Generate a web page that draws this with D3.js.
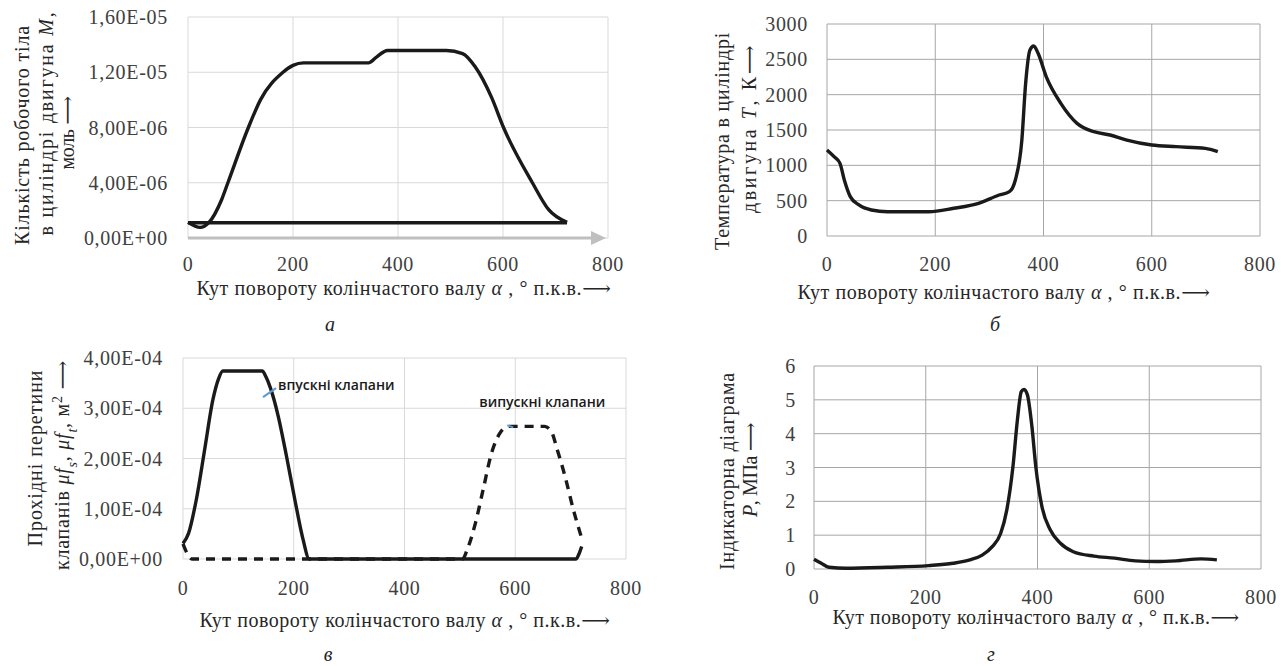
<!DOCTYPE html>
<html>
<head>
<meta charset="utf-8">
<script src="https://cdn.jsdelivr.net/npm/d3@7"></script>
<style>
  body { margin: 0; background: #fff; }
  svg { display: block; }
  .tick-label { font-family: "Liberation Serif", "DejaVu Serif", serif; font-size: 20px; letter-spacing: 0.7px; fill: #404040; }
  .title { font-family: "Liberation Serif", "DejaVu Serif", serif; font-size: 20px; fill: #262626; }
  .note { font-family: "Open Sans", sans-serif; font-size: 14px; font-weight: 600; fill: #1a1a1a; }
</style>
</head>
<body>
<svg id="svg"></svg>
<script>
const width = 1285
const height = 666

// ------------------------------------------------------
// Data

// shared x axis: crank angle, degrees
const angleTicks = [0, 200, 400, 600, 800]

// (а) amount of working fluid M, mol
const molAngle = [0, 23, 40, 64, 76, 115, 138, 181, 200, 220, 344, 359, 380, 492, 523, 547, 578, 601, 656, 687, 722]
const molValue = [1.13e-6, 0.77e-6, 1.13e-6, 2.77e-6, 4.0e-6, 8.0e-6, 10.0e-6, 12.0e-6, 12.5e-6, 12.68e-6, 12.68e-6,
	13.1e-6, 13.58e-6, 13.58e-6, 13.35e-6, 12.4e-6, 10.2e-6, 8.0e-6, 4.0e-6, 2.05e-6, 1.13e-6]
const molBaseAngle = [0, 722]
const molBaseValue = [1.1e-6, 1.1e-6]
const molTicks = [0, 4e-6, 8e-6, 1.2e-5, 1.6e-5]

// (б) temperature T, K
const tempAngle = [0, 13, 24, 32, 43, 59, 82, 112, 188, 234, 280, 318, 337, 348, 360, 367, 375, 382, 390, 405,
	432, 462, 493, 523, 554, 600, 645, 699, 722]
const tempValue = [1217, 1123, 1028, 792, 557, 439, 368, 344, 344, 392, 462, 580, 627, 792, 1358, 2160, 2632, 2689,
	2585, 2255, 1877, 1594, 1476, 1429, 1358, 1288, 1264, 1240, 1193]
const tempTicks = [0, 500, 1000, 1500, 2000, 2500, 3000]

// (в) valve flow areas, m2
const intakeAngle = [0, 10, 24, 39, 54, 64, 72, 143, 150, 158, 172, 187, 202, 217, 228, 710, 715, 720]
const intakeValue = [0.31e-4, 0.51e-4, 1.18e-4, 2.17e-4, 3.17e-4, 3.58e-4, 3.74e-4, 3.74e-4, 3.62e-4, 3.4e-4,
	2.84e-4, 2.04e-4, 1.18e-4, 0.38e-4, 0, 0, 0.1e-4, 0.25e-4]
const exhaustAngle = [0, 8, 16, 205, 505, 513, 528, 542, 557, 572, 582, 590, 653, 665, 676, 690, 705, 719]
const exhaustValue = [0.3e-4, 0.1e-4, 0, 0, 0, 0.18e-4, 0.71e-4, 1.38e-4, 2.1e-4, 2.5e-4, 2.62e-4, 2.64e-4, 2.64e-4,
	2.54e-4, 2.17e-4, 1.64e-4, 0.98e-4, 0.45e-4]
const areaTicks = [0, 1e-4, 2e-4, 3e-4, 4e-4]
const noteText = ['впускні клапани', 'випускні клапани']
const noteAngle = [168, 591]
const noteValue = [3.4e-4, 2.64e-4]

// (г) indicator diagram P, MPa
const presAngle = [0, 13, 27, 57, 131, 205, 249, 279, 301, 319, 334, 345, 356, 364, 371, 376, 382, 390, 397, 408,
	423, 441, 464, 501, 538, 575, 611, 648, 693, 721]
const presValue = [0.29, 0.17, 0.05, 0.02, 0.05, 0.1, 0.17, 0.27, 0.41, 0.66, 1.05, 1.74, 3.02, 4.4, 5.24, 5.31,
	5.14, 4.21, 3.02, 1.84, 1.15, 0.76, 0.51, 0.38, 0.32, 0.24, 0.22, 0.24, 0.3, 0.27]
const presTicks = [0, 1, 2, 3, 4, 5, 6]

// ------------------------------------------------------
// Helpers

// 1.6e-5 -> "1,60E-05"
function sci(v) {
	const [m, e] = v.toExponential(2).split('e')
	const n = Math.abs(+e)
	return m.replace('.', ',') + 'E' + (+e < 0 ? '-' : '+') + (n < 10 ? '0' + n : n)
}

const zip = (xs, ys) => xs.map((x, i) => [x, ys[i]])

// the source figure is a bit stretched sideways: spread letters to a given length
function fit(sel, target) {
	const node = sel.node()
	const len = node.getComputedTextLength()
	const n = node.textContent.length
	sel.attr('letter-spacing', ((target - len) / n).toFixed(2))
}

const svg = d3.select('#svg')
	.attr('width', width)
	.attr('height', height)

const xTitle = 'Кут повороту колінчастого валу '

function panel(o) {
	const x = d3.scaleLinear().domain([0, 800]).range([o.left, o.right])
	const y = d3.scaleLinear().domain(o.yDomain).range([o.bottom, o.top])
	const g = svg.append('g')

	// grid
	g.selectAll('.hg').data(o.yTicks).enter().append('line')
		.attr('x1', o.left).attr('x2', o.right)
		.attr('y1', d => y(d)).attr('y2', d => y(d))
		.attr('stroke', o.grid).attr('stroke-width', 1)
	g.selectAll('.vg').data(angleTicks).enter().append('line')
		.attr('x1', d => x(d)).attr('x2', d => x(d))
		.attr('y1', o.top).attr('y2', o.bottom)
		.attr('stroke', o.grid).attr('stroke-width', 1)

	// tick labels
	g.selectAll('.yl').data(o.yTicks).enter().append('text')
		.attr('class', 'tick-label')
		.attr('x', o.left - o.yGap)
		.attr('y', d => y(d) + 7)
		.attr('text-anchor', 'end')
		.text(o.yFormat)
	g.selectAll('.xl').data(angleTicks).enter().append('text')
		.attr('class', 'tick-label')
		.attr('x', d => x(d))
		.attr('y', o.xLabelY)
		.attr('text-anchor', 'middle')
		.text(d => d)

	// x title
	const xt = g.append('text').attr('class', 'title')
		.attr('x', o.xTitleX).attr('y', o.xTitleY)
		.attr('text-anchor', 'middle')
	xt.append('tspan').text(xTitle)
	xt.append('tspan').attr('font-style', 'italic').text('α')
	xt.append('tspan').text(' , ° п.к.в.⟶')
	fit(xt, o.xTitleLen)

	// panel letter
	g.append('text').attr('class', 'title')
		.attr('x', o.letterX).attr('y', o.letterY)
		.attr('text-anchor', 'middle')
		.attr('font-style', 'italic')
		.attr('font-size', 21)
		.text(o.letter)

	// y title, rotated
	o.yTitle.forEach((parts, i) => {
		const t = g.append('text').attr('class', 'title')
			.attr('text-anchor', 'middle')
			.attr('transform', `translate(${o.yTitleX[i]},${o.yTitleY[i]}) rotate(-90)`)
			.attr('font-size', o.yTitleSize[i])
		parts.forEach(p => {
			const s = t.append('tspan').text(p.t)
			if (p.i) s.attr('font-style', 'italic')
			if (p.sub) s.attr('baseline-shift', 'sub').attr('font-size', '70%')
			if (p.sup) s.attr('baseline-shift', 'super').attr('font-size', '70%')
		})
		fit(t, o.yTitleLen[i])
	})

	return { g, x, y }
}

function drawLine(p, pts, opts = {}) {
	const line = d3.line()
		.x(d => p.x(d[0]))
		.y(d => p.y(d[1]))
		.curve(d3.curveMonotoneX)
	p.g.append('path')
		.datum(pts)
		.attr('d', line)
		.attr('fill', 'none')
		.attr('stroke', opts.color || '#1a1a1a')
		.attr('stroke-width', opts.width || 3.4)
		.attr('stroke-linejoin', 'round')
		.attr('stroke-dasharray', opts.dash || null)
}

// ------------------------------------------------------
// (а)
const pa = panel({
	left: 188, right: 608, top: 17, bottom: 238,
	yDomain: [0, 1.6e-5], yTicks: molTicks, yFormat: sci, yGap: 20,
	grid: '#d9d9d9',
	xLabelY: 271, xTitleX: 404, xTitleY: 295, xTitleLen: 415,
	letter: 'а', letterX: 330, letterY: 331,
	yTitle: [
		[{ t: 'Кількість робочого тіла' }],
		[{ t: 'в циліндрі двигуна ' }, { t: 'M', i: true }, { t: ',' }],
		[{ t: 'моль ⟶' }]
	],
	yTitleX: [29, 53, 74], yTitleY: [135, 123, 133], yTitleSize: [21, 21, 19], yTitleLen: [220, 225, 73]
})
// grey x axis with arrow head
pa.g.append('line')
	.attr('x1', pa.x(0)).attr('x2', pa.x(800) - 12)
	.attr('y1', pa.y(0)).attr('y2', pa.y(0))
	.attr('stroke', '#bfbfbf').attr('stroke-width', 3)
pa.g.append('path')
	.attr('d', `M${pa.x(800) - 2},${pa.y(0)} l-15,-7 l0,14 z`)
	.attr('fill', '#bfbfbf')
drawLine(pa, zip(molBaseAngle, molBaseValue))
drawLine(pa, zip(molAngle, molValue))

// ------------------------------------------------------
// (б)
const pb = panel({
	left: 827, right: 1260, top: 24, bottom: 236,
	yDomain: [0, 3000], yTicks: tempTicks, yFormat: d => d, yGap: 19,
	grid: '#a6a6a6',
	xLabelY: 271, xTitleX: 1004, xTitleY: 299, xTitleLen: 413,
	letter: 'б', letterX: 995, letterY: 331,
	yTitle: [
		[{ t: 'Температура в циліндрі' }],
		[{ t: 'двигуна ' }, { t: 'T', i: true }, { t: ', К⟶' }]
	],
	yTitleX: [729, 756], yTitleY: [141, 128], yTitleSize: [21, 21], yTitleLen: [218, 170]
})
drawLine(pb, zip(tempAngle, tempValue))

// ------------------------------------------------------
// (в)
const pc = panel({
	left: 183, right: 626, top: 358, bottom: 559,
	yDomain: [0, 4e-4], yTicks: areaTicks, yFormat: sci, yGap: 20,
	grid: '#d9d9d9',
	xLabelY: 595, xTitleX: 405, xTitleY: 627, xTitleLen: 411,
	letter: 'в', letterX: 328, letterY: 661,
	yTitle: [
		[{ t: 'Прохідні перетини' }],
		[{ t: 'клапанів ' }, { t: 'μf', i: true }, { t: 's', i: true, sub: true }, { t: ', ' },
			{ t: 'μf', i: true }, { t: 't', i: true, sub: true }, { t: ', м' }, { t: '2', sup: true }, { t: ' ⟶' }]
	],
	yTitleX: [42, 69], yTitleY: [458, 465], yTitleSize: [22, 20], yTitleLen: [177, 210]
})
drawLine(pc, zip(exhaustAngle, exhaustValue), { dash: '9,7' })
drawLine(pc, zip(intakeAngle, intakeValue))

// callouts
const ax0 = pc.x(noteAngle[0]), ay0 = pc.y(noteValue[0])
pc.g.append('line')
	.attr('x1', ax0 - 13).attr('y1', ay0 + 9).attr('x2', ax0).attr('y2', ay0)
	.attr('stroke', '#5b9bd5').attr('stroke-width', 2)
pc.g.append('text').attr('class', 'note')
	.attr('x', ax0 + 2).attr('y', ay0 + 2)
	.text(noteText[0])
const ax1 = pc.x(noteAngle[1]), ay1 = pc.y(noteValue[1])
pc.g.append('line')
	.attr('x1', ax1 - 3).attr('y1', ay1 - 1).attr('x2', ax1 + 3).attr('y2', ay1 + 1)
	.attr('stroke', '#5b9bd5').attr('stroke-width', 2)
pc.g.append('text').attr('class', 'note')
	.attr('x', ax1 + 32).attr('y', ay1 - 19)
	.attr('text-anchor', 'middle')
	.text(noteText[1])

// ------------------------------------------------------
// (г)
const pd = panel({
	left: 814, right: 1261, top: 366, bottom: 569,
	yDomain: [0, 6], yTicks: presTicks, yFormat: d => d, yGap: 18,
	grid: '#a6a6a6',
	xLabelY: 604, xTitleX: 1036, xTitleY: 624, xTitleLen: 407,
	letter: 'г', letterX: 991, letterY: 661,
	yTitle: [
		[{ t: 'Індикаторна діаграма' }],
		[{ t: 'P', i: true }, { t: ', МПа ⟶' }]
	],
	yTitleX: [734, 757], yTitleY: [471, 470], yTitleSize: [21, 21], yTitleLen: [198, 94]
})
drawLine(pd, zip(presAngle, presValue))
</script>
</body>
</html>
